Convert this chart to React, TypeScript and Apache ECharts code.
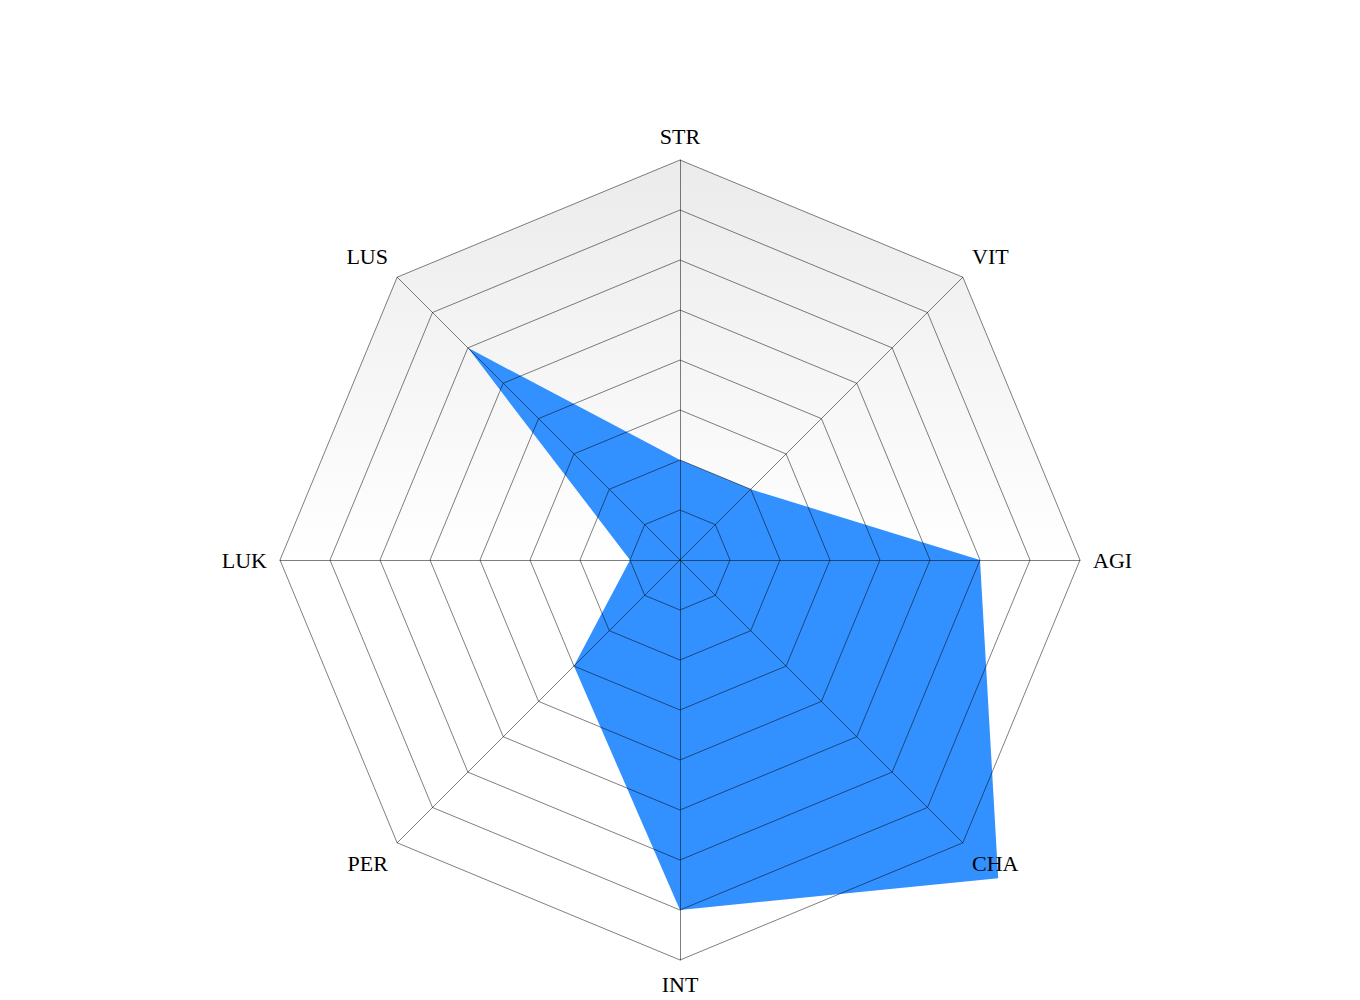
import React, { useEffect, useRef } from "react";
import * as echarts from "echarts";

// Categories listed clockwise from the top
const categories = ["STR", "VIT", "AGI", "CHA", "INT", "PER", "LUK", "LUS"];
const values = [2, 2, 6, 9, 7, 3, 1, 6];
const maxValue = 8;
const splitCount = 8;

// ECharts lays indicators counter-clockwise, so reverse all but the first
const ccw = <T,>(arr: T[]): T[] => [arr[0], ...arr.slice(1).reverse()];

export default function App() {
  const ref = useRef<HTMLDivElement>(null);
  useEffect(() => {
    if (!ref.current) return;
    const chart = echarts.init(ref.current, undefined, { renderer: "svg" });
    const indicator = ccw(categories).map((name) => ({ name, max: maxValue, min: 0 }));
    const lineColor = "rgba(0,0,0,0.5)";
    const nameFormatter = (name: string) => {
      const i = categories.indexOf(name);
      const ang = ((90 - (i * 360) / categories.length) * Math.PI) / 180;
      const s = Math.sin(ang);
      const c = Math.cos(ang);
      if (Math.abs(c) < 0.1) return name;
      if (s > 0.1) return name + "\n";
      if (s < -0.1) return "\n" + name;
      return name;
    };
    chart.setOption({
      animation: false,
      backgroundColor: "#ffffff",
      radar: [
        {
          center: ["50%", "56%"],
          radius: 400,
          startAngle: 90,
          splitNumber: splitCount,
          shape: "polygon",
          indicator,
          z: 1,
          axisName: { show: false },
          axisLine: { show: false },
          splitLine: { show: false },
          splitArea: {
            show: true,
            areaStyle: {
              color: [
                new echarts.graphic.LinearGradient(0, 160, 0, 560, [
                  { offset: 0, color: "#ebebeb" },
                  { offset: 1, color: "#ffffff" },
                ], true),
              ],
            },
          },
        },
        {
          center: ["50%", "56%"],
          radius: 400,
          startAngle: 90,
          splitNumber: splitCount,
          shape: "polygon",
          indicator,
          z: 3,
          axisName: {
            color: "#000",
            fontFamily: "Liberation Serif, Times New Roman, serif",
            fontSize: 22,
            lineHeight: 22,
            formatter: nameFormatter,
          },
          nameGap: 13,
          axisLine: { show: true, lineStyle: { color: lineColor, width: 1 } },
          splitLine: { show: true, lineStyle: { color: lineColor, width: 1 } },
          splitArea: { show: false },
        },
      ],
      series: [
        {
          type: "radar",
          radarIndex: 0,
          z: 2,
          symbol: "none",
          lineStyle: { width: 0, color: "#3390ff" },
          areaStyle: { color: "#3390ff", opacity: 1 },
          data: [{ value: ccw(values) }],
        },
      ],
    });
    return () => chart.dispose();
  }, []);
  return (
    <div
      ref={ref}
      style={{ position: "absolute", left: 0, top: 0, width: 1360, height: 1000 }}
    />
  );
}
